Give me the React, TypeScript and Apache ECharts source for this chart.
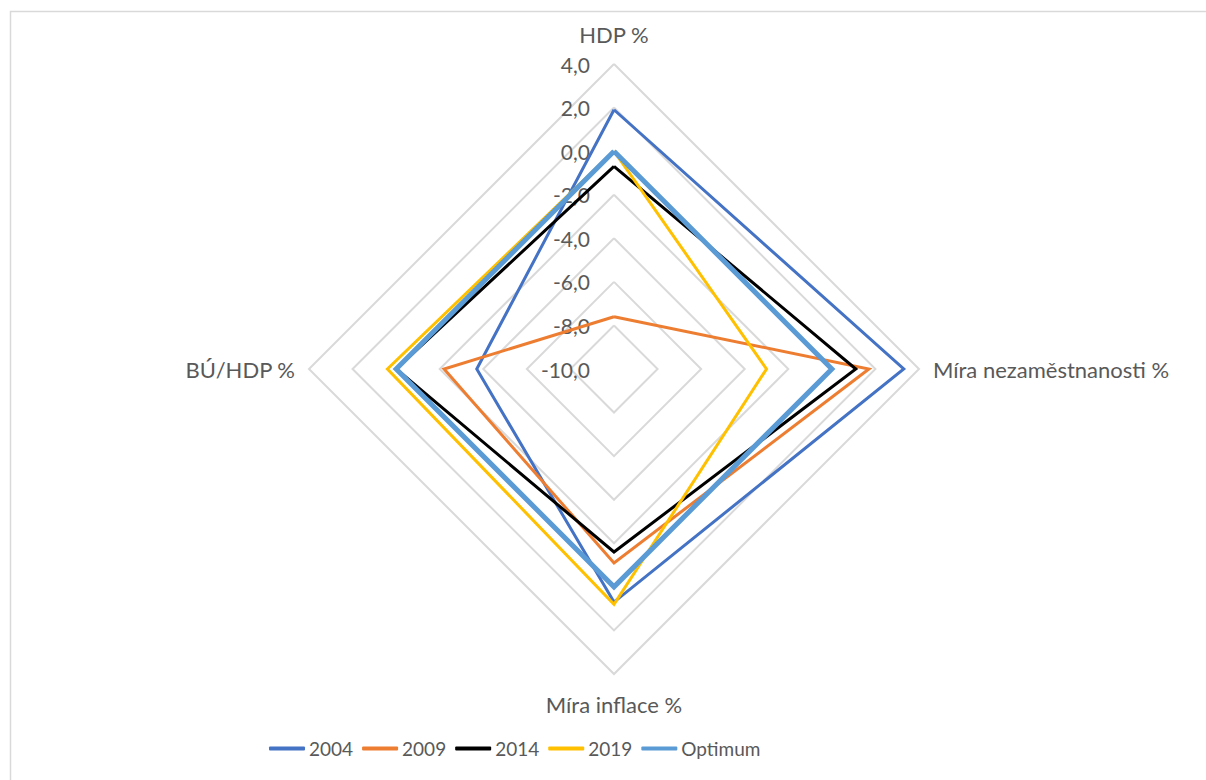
import React, { useEffect, useRef } from "react";
import * as echarts from "echarts";

const indicators = ["HDP %", "Míra nezaměstnanosti %", "Míra inflace %", "BÚ/HDP %"];
const seriesNames = ["2004", "2009", "2014", "2019", "Optimum"];
const v2004 = [1.9, 3.3, 0.7, -3.7];
const v2009 = [-7.6, 1.7, -1.1, -2.2];
const v2014 = [-0.7, 1.1, -1.6, 0.0];
const v2019 = [0.0, -3.0, 0.8, 0.4];
const vOptimum = [0.0, 0.0, 0.0, 0.0];
const seriesValues = [v2004, v2009, v2014, v2019, vOptimum];
const colors = ["#4472C4", "#ED7D31", "#000000", "#FFC000", "#5B9BD5"];
const widths = [3, 3, 3, 3, 5];
const axisMin = -10;
const axisMax = 4;
const axisStep = 2;

// ECharts lays radar axes out counter-clockwise; the reference runs clockwise.
const order = [0, 3, 2, 1];

const FONT = "Lato";
const TXT = "#595959";

export default function App() {
  const ref = useRef<HTMLDivElement>(null);
  useEffect(() => {
    document.body.style.margin = "0";
    const chart = echarts.init(ref.current!, null, { renderer: "svg" });
    const cx = 614;
    const cy = 369;
    const R = 305;
    chart.setOption({
      animation: false,
      backgroundColor: "#ffffff",
      textStyle: { fontFamily: FONT, color: TXT },
      graphic: [
        {
          type: "rect",
          shape: { x: 10.5, y: 11.5, width: 1400, height: 1000 },
          style: { fill: "none", stroke: "#D9D9D9", lineWidth: 1.5 },
          silent: true,
          z: -10,
        },
      ],
      radar: {
        center: [cx, cy],
        radius: R,
        startAngle: 90,
        shape: "polygon",
        splitNumber: (axisMax - axisMin) / axisStep,
        indicator: order.map((k) => ({ name: indicators[k], min: axisMin, max: axisMax })),
        axisName: {
          color: TXT,
          fontFamily: FONT,
          fontSize: 22,
          padding: [5, 0, 5, 0],
        },
        nameGap: 14,
        axisLine: { show: false },
        axisTick: { show: false },
        axisLabel: { show: false },
        splitArea: { show: false },
        splitLine: { lineStyle: { color: "#D9D9D9", width: 2 } },
      },
      grid: { left: cx, top: cy - R, height: R, width: 1 },
      xAxis: { type: "value", show: false },
      yAxis: {
        type: "value",
        min: axisMin,
        max: axisMax,
        interval: axisStep,
        axisLine: { show: false },
        axisTick: { show: false },
        splitLine: { show: false },
        axisLabel: {
          margin: 24,
          color: TXT,
          fontFamily: FONT,
          fontSize: 21,
          formatter: (v: number) => v.toFixed(1).replace(".", ","),
        },
      },
      legend: {
        left: 264,
        top: 734,
        itemWidth: 36,
        itemHeight: 4,
        itemGap: 9,
        icon: "roundRect",
        textStyle: { color: TXT, fontFamily: FONT, fontSize: 19, padding: [0, 0, 0, -1] },
        data: seriesNames.map((n, i) => ({ name: n, itemStyle: { color: colors[i] } })),
      },
      series: [
        {
          type: "radar",
          symbol: "none",
          data: seriesNames.map((n, i) => ({
            name: n,
            value: order.map((k) => seriesValues[i][k]),
            lineStyle: { color: colors[i], width: widths[i], join: "miter" },
            itemStyle: { color: colors[i] },
          })),
        },
      ],
    });
    return () => chart.dispose();
  }, []);
  return <div ref={ref} style={{ width: 1206, height: 780 }} />;
}
